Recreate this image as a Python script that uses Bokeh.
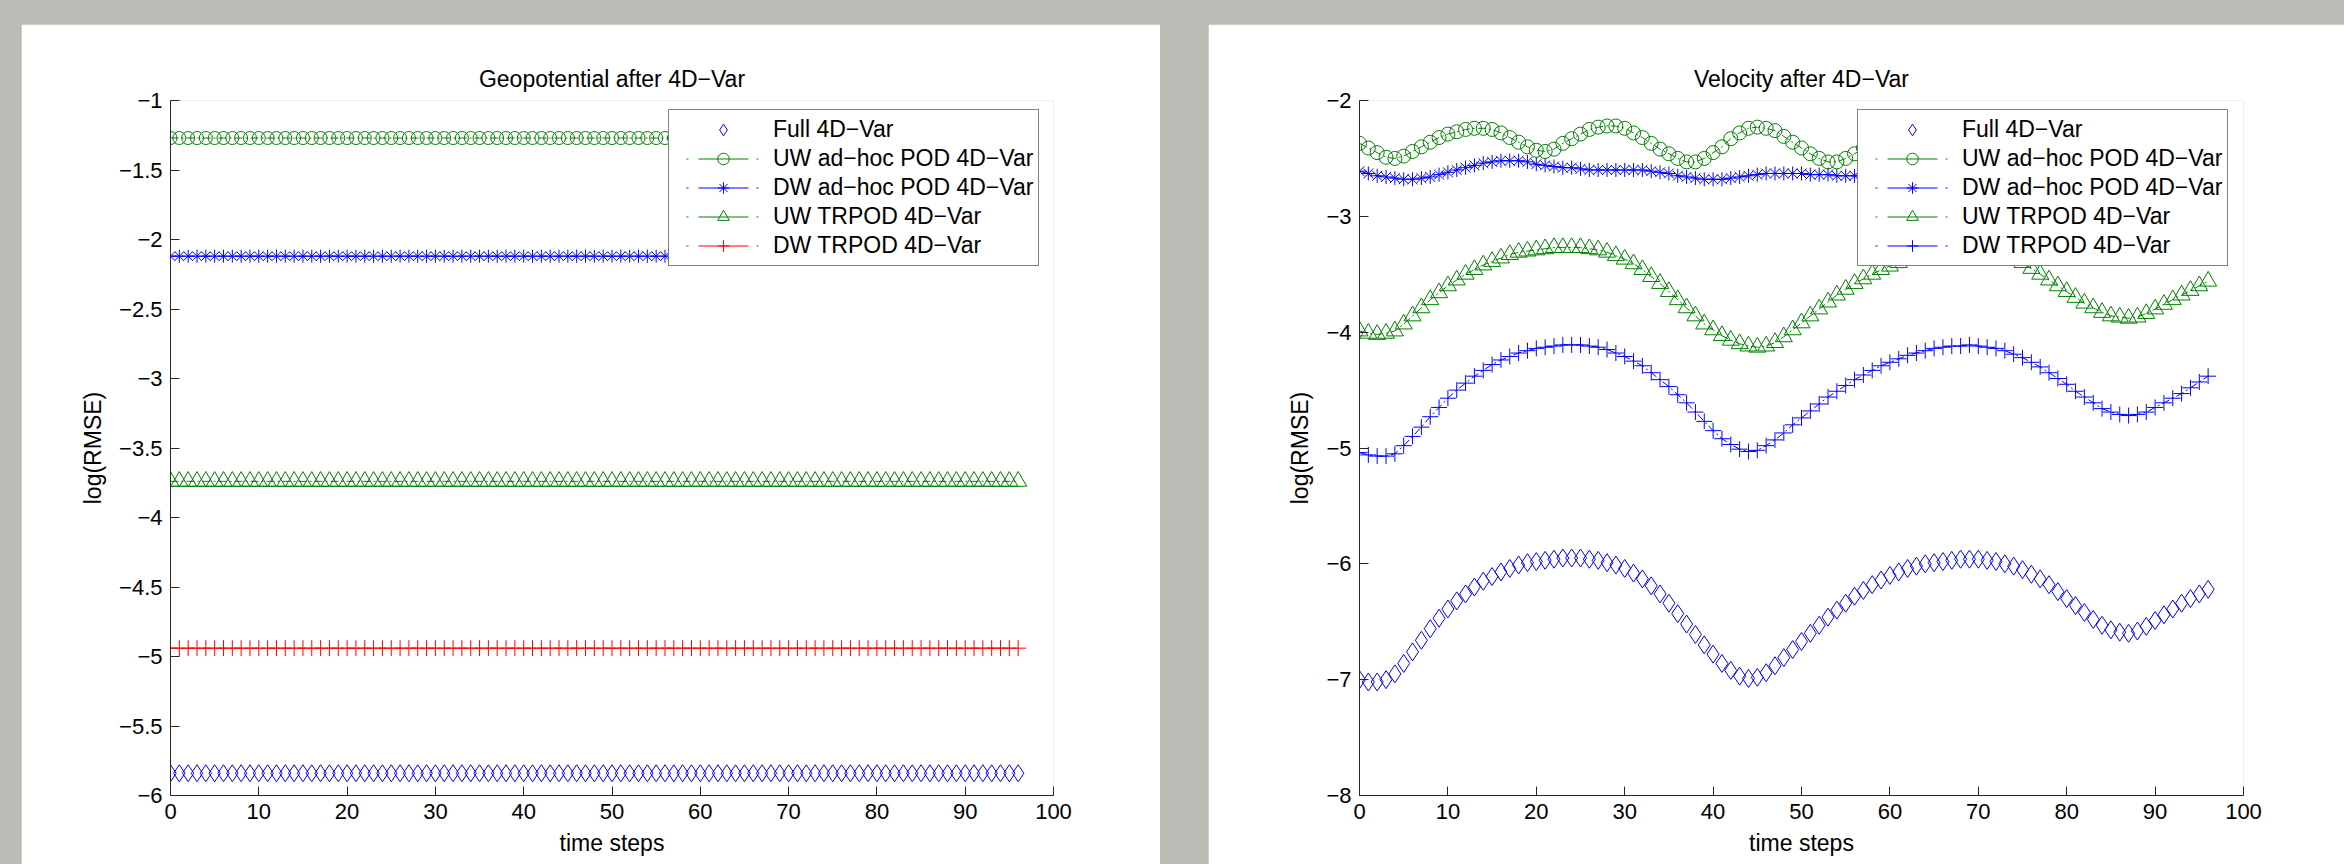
from bokeh.plotting import figure
from bokeh.layouts import row
from bokeh.models import (ColumnDataSource, Legend, LegendItem, FixedTicker,
                          Range1d, GlobalInlineStyleSheet)
from bokeh.embed import file_html
from bokeh.resources import INLINE

# ---------------- data ----------------
time_steps = list(range(97))

x_ticks = [0, 10, 20, 30, 40, 50, 60, 70, 80, 90, 100]
x_tick_labels = ["0", "10", "20", "30", "40", "50", "60", "70", "80", "90", "100"]

geo_y_ticks = [-1.0, -1.5, -2.0, -2.5, -3.0, -3.5, -4.0, -4.5, -5.0, -5.5, -6.0]
geo_y_labels = ["\u22121", "\u22121.5", "\u22122", "\u22122.5", "\u22123", "\u22123.5",
                "\u22124", "\u22124.5", "\u22125", "\u22125.5", "\u22126"]

vel_y_ticks = [-2.0, -3.0, -4.0, -5.0, -6.0, -7.0, -8.0]
vel_y_labels = ["\u22122", "\u22123", "\u22124", "\u22125", "\u22126", "\u22127", "\u22128"]

series_labels = ["Full 4D\u2212Var", "UW ad\u2212hoc POD 4D\u2212Var", "DW ad\u2212hoc POD 4D\u2212Var",
                 "UW TRPOD 4D\u2212Var", "DW TRPOD 4D\u2212Var"]

# Geopotential (constant over time)
geo_full = [-5.84] * len(time_steps)
geo_uw_adhoc = [-1.27] * len(time_steps)
geo_dw_adhoc = [-2.12] * len(time_steps)
geo_uw_trpod = [-3.74] * len(time_steps)
geo_dw_trpod = [-4.94] * len(time_steps)

# Velocity
vel_full = [-7.00, -7.02, -7.02, -7.00, -6.95, -6.86, -6.76, -6.66, -6.56, -6.47,
            -6.39, -6.32, -6.26, -6.20, -6.15, -6.11, -6.07, -6.04, -6.01, -5.99,
            -5.98, -5.97, -5.96, -5.95, -5.95, -5.95, -5.96, -5.97, -5.99, -6.01,
            -6.04, -6.08, -6.13, -6.19, -6.26, -6.34, -6.43, -6.52, -6.61, -6.70,
            -6.78, -6.86, -6.92, -6.97, -6.99, -6.98, -6.94, -6.88, -6.81, -6.74,
            -6.67, -6.60, -6.53, -6.46, -6.40, -6.34, -6.28, -6.23, -6.18, -6.14,
            -6.10, -6.07, -6.04, -6.02, -6.00, -5.99, -5.98, -5.97, -5.96, -5.96,
            -5.96, -5.97, -5.98, -6.00, -6.02, -6.05, -6.09, -6.13, -6.18, -6.24,
            -6.30, -6.36, -6.42, -6.48, -6.53, -6.57, -6.59, -6.60, -6.58, -6.54,
            -6.49, -6.44, -6.39, -6.34, -6.30, -6.26, -6.22]

vel_uw_adhoc = [-2.37, -2.41, -2.45, -2.49, -2.50, -2.48, -2.44, -2.40, -2.36, -2.32,
                -2.29, -2.27, -2.25, -2.24, -2.24, -2.25, -2.28, -2.32, -2.36, -2.40,
                -2.43, -2.44, -2.42, -2.37, -2.33, -2.29, -2.25, -2.23, -2.22, -2.22,
                -2.24, -2.28, -2.32, -2.37, -2.42, -2.46, -2.50, -2.53, -2.53, -2.50,
                -2.45, -2.40, -2.33, -2.28, -2.24, -2.23, -2.24, -2.26, -2.31, -2.36,
                -2.41, -2.46, -2.50, -2.53, -2.53, -2.50, -2.46, -2.41, -2.36, -2.31,
                -2.27, -2.25, -2.24, -2.26, -2.30, -2.35, -2.40, -2.44, -2.45, -2.43,
                -2.38, -2.33, -2.28, -2.25, -2.23, -2.23, -2.25, -2.29, -2.34, -2.39,
                -2.44, -2.48, -2.51, -2.53, -2.52, -2.49, -2.44, -2.38, -2.33, -2.28,
                -2.25, -2.24, -2.25, -2.28, -2.32, -2.36, -2.40]

vel_dw_adhoc = [-2.61, -2.63, -2.65, -2.66, -2.67, -2.68, -2.68, -2.67, -2.66, -2.64,
                -2.62, -2.60, -2.58, -2.56, -2.54, -2.53, -2.52, -2.52, -2.52, -2.53,
                -2.55, -2.56, -2.57, -2.58, -2.58, -2.59, -2.60, -2.60, -2.60, -2.60,
                -2.60, -2.60, -2.60, -2.61, -2.62, -2.63, -2.65, -2.66, -2.67, -2.68,
                -2.68, -2.68, -2.67, -2.66, -2.65, -2.64, -2.63, -2.63, -2.63, -2.63,
                -2.63, -2.64, -2.64, -2.64, -2.65, -2.65, -2.65, -2.65, -2.64, -2.63,
                -2.62, -2.61, -2.60, -2.60, -2.60, -2.61, -2.62, -2.63, -2.64, -2.65,
                -2.66, -2.66, -2.66, -2.65, -2.64, -2.63, -2.62, -2.62, -2.62, -2.62,
                -2.63, -2.64, -2.65, -2.66, -2.67, -2.67, -2.67, -2.66, -2.65, -2.64,
                -2.63, -2.62, -2.62, -2.62, -2.62, -2.63, -2.63]

vel_uw_trpod = [-3.99, -4.01, -4.02, -4.01, -3.99, -3.93, -3.86, -3.79, -3.72, -3.66,
                -3.60, -3.55, -3.50, -3.46, -3.42, -3.39, -3.36, -3.33, -3.31, -3.30,
                -3.29, -3.28, -3.27, -3.27, -3.27, -3.27, -3.28, -3.29, -3.31, -3.34,
                -3.37, -3.41, -3.46, -3.52, -3.58, -3.65, -3.72, -3.79, -3.86, -3.93,
                -3.98, -4.03, -4.07, -4.10, -4.12, -4.13, -4.12, -4.09, -4.04, -3.98,
                -3.92, -3.86, -3.80, -3.74, -3.68, -3.63, -3.58, -3.54, -3.50, -3.46,
                -3.43, -3.40, -3.37, -3.34, -3.32, -3.30, -3.29, -3.28, -3.27, -3.27,
                -3.28, -3.29, -3.31, -3.34, -3.37, -3.40, -3.45, -3.50, -3.55, -3.60,
                -3.65, -3.70, -3.75, -3.79, -3.83, -3.86, -3.87, -3.88, -3.87, -3.84,
                -3.80, -3.76, -3.72, -3.68, -3.64, -3.60, -3.56]

vel_dw_trpod = [-5.04, -5.06, -5.07, -5.07, -5.05, -4.98, -4.90, -4.82, -4.73, -4.65,
                -4.57, -4.50, -4.44, -4.38, -4.33, -4.28, -4.24, -4.21, -4.18, -4.16,
                -4.14, -4.13, -4.12, -4.11, -4.11, -4.11, -4.12, -4.13, -4.15, -4.18,
                -4.21, -4.25, -4.29, -4.35, -4.41, -4.47, -4.54, -4.61, -4.69, -4.77,
                -4.85, -4.92, -4.97, -5.01, -5.03, -5.02, -4.98, -4.93, -4.87, -4.80,
                -4.74, -4.68, -4.62, -4.56, -4.51, -4.46, -4.41, -4.37, -4.33, -4.29,
                -4.26, -4.23, -4.20, -4.18, -4.16, -4.14, -4.13, -4.12, -4.12, -4.11,
                -4.12, -4.13, -4.14, -4.16, -4.19, -4.22, -4.26, -4.30, -4.35, -4.40,
                -4.45, -4.51, -4.56, -4.61, -4.66, -4.69, -4.71, -4.72, -4.71, -4.69,
                -4.65, -4.61, -4.57, -4.53, -4.48, -4.43, -4.38]

# ---------------- styles ----------------
FONT = "Liberation Sans"
BLUE = "#0000ff"
GREEN = "#008000"
RED = "#ff0000"
AXIS_COLOR = "#262626"
PAGE_BG = "#bbbdb6"

markers = ["diamond", "circle", "asterisk", "triangle", "cross"]
has_line = [False, True, True, True, True]
geo_colors = [BLUE, GREEN, BLUE, GREEN, RED]
vel_colors = [BLUE, GREEN, BLUE, GREEN, BLUE]
geo_sizes = [17, 13, 13, 17, 16]
vel_sizes = [18, 14, 14, 17, 16]

DATA_DASH = "8 3 2 3"
LEGEND_DASH = "0 12 2 10 50 8 2 30"


def make_chart(title, y_lo, y_hi, y_ticks, y_labels, values, colors, sizes,
               width, left_margin, border_left, border_right):
    p = figure(width=width, height=840,
               x_range=Range1d(0, 100), y_range=Range1d(y_lo, y_hi),
               output_backend="svg", toolbar_location=None,
               min_border_left=border_left, min_border_right=border_right,
               min_border_top=76, min_border_bottom=69,
               margin=(24, 0, 0, left_margin),
               background_fill_color="white", border_fill_color="white",
               outline_line_color=None)
    p.title.text = title
    p.title.align = "center"
    p.title.text_font = FONT
    p.title.text_font_size = "23px"
    p.title.text_font_style = "normal"
    p.title.text_color = "black"
    p.title.standoff = 17

    p.xgrid.visible = False
    p.ygrid.visible = False

    for ax in (p.xaxis[0], p.yaxis[0]):
        ax.axis_line_color = AXIS_COLOR
        ax.major_tick_line_color = AXIS_COLOR
        ax.major_tick_in = 9
        ax.major_tick_out = 0
        ax.minor_tick_in = 0
        ax.minor_tick_out = 0
        ax.minor_tick_line_color = None
        ax.major_label_text_font = FONT
        ax.major_label_text_font_size = "22px"
        ax.major_label_text_color = "black"
        ax.major_label_standoff = 8
        ax.axis_label_text_font = FONT
        ax.axis_label_text_font_size = "23px"
        ax.axis_label_text_font_style = "normal"
        ax.axis_label_text_color = "black"

    p.xaxis.ticker = FixedTicker(ticks=x_ticks)
    p.xaxis.major_label_overrides = {t: l for t, l in zip(x_ticks, x_tick_labels)}
    p.xaxis.axis_label = "time steps"
    p.xaxis.axis_label_standoff = 8

    p.yaxis.ticker = FixedTicker(ticks=y_ticks)
    p.yaxis.major_label_overrides = {t: l for t, l in zip(y_ticks, y_labels)}
    p.yaxis.axis_label = "log(RMSE)"
    p.yaxis.axis_label_standoff = 10

    items = []
    for lab, vals, col, mk, sz, ln in zip(series_labels, values, colors, markers, sizes, has_line):
        src = ColumnDataSource(dict(x=time_steps, y=vals))
        rs = []
        if ln:
            p.line("x", "y", source=src, line_color=col, line_width=1, line_dash=DATA_DASH)
            # one-point line: draws nothing in the plot, only supplies the legend's line sample
            key_src = ColumnDataSource(dict(x=time_steps[:1], y=vals[:1]))
            legend_line = p.line("x", "y", source=key_src, line_color=col, line_width=1,
                                 line_dash=LEGEND_DASH)
            rs.append(legend_line)
        sc = p.scatter("x", "y", source=src, marker=mk, size=sz, fill_color=None,
                       line_color=col, line_width=1)
        rs.append(sc)
        items.append(LegendItem(label=lab, renderers=rs))

    legend = Legend(items=items, location=(498, 529),
                    border_line_color="black", border_line_width=1,
                    background_fill_color="white", background_fill_alpha=1.0,
                    label_text_font=FONT, label_text_font_size="23px",
                    label_text_color="black",
                    glyph_width=98, glyph_height=29, label_height=29,
                    label_standoff=1, spacing=0, padding=5, margin=0)
    p.add_layout(legend)
    return p


geo = make_chart("Geopotential after 4D\u2212Var", -6, -1, geo_y_ticks, geo_y_labels,
                 [geo_full, geo_uw_adhoc, geo_dw_adhoc, geo_uw_trpod, geo_dw_trpod],
                 geo_colors, geo_sizes, width=1139, left_margin=21,
                 border_left=149, border_right=107)

vel = make_chart("Velocity after 4D\u2212Var", -8, -2, vel_y_ticks, vel_y_labels,
                 [vel_full, vel_uw_adhoc, vel_dw_adhoc, vel_uw_trpod, vel_dw_trpod],
                 vel_colors, vel_sizes, width=1136, left_margin=48,
                 border_left=151, border_right=101)

page_css = GlobalInlineStyleSheet(
    css="html, body { margin: 0; padding: 0; background-color: %s; overflow: hidden; }" % PAGE_BG)

layout = row(geo, vel, spacing=0, stylesheets=[page_css])

open("out.html", "w").write(file_html(layout, INLINE))
